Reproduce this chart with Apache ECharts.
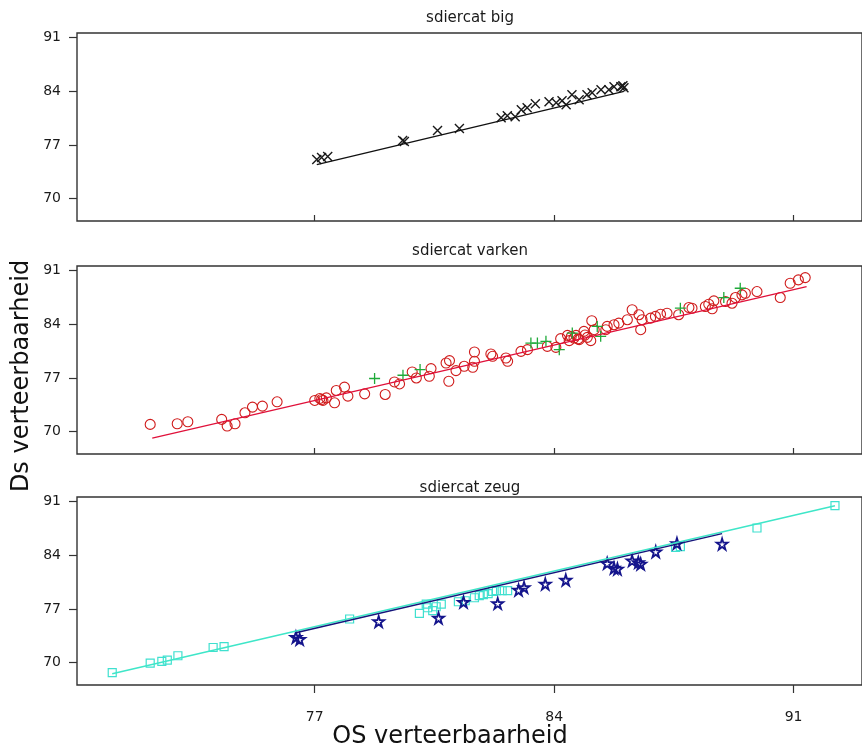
<!DOCTYPE html>
<html>
<head>
<meta charset="utf-8">
<script src="https://cdn.jsdelivr.net/npm/echarts@6/dist/echarts.min.js"></script>
<style>
html,body{margin:0;padding:0;background:#fff;}
#chart{width:862px;height:749px;}
</style>
</head>
<body>
<div id="chart"></div>
<script>
// ---- Data ----
var panelTitles = ['sdiercat big', 'sdiercat varken', 'sdiercat zeug'];
var xTicks = [77, 84, 91];
var yTicks = [70, 77, 84, 91];
var xTitle = 'OS verteerbaarheid';
var yTitle = 'Ds verteerbaarheid';

// panel 1: big (crosses)
var bigX = [77.06, 77.2, 77.38, 79.57, 79.62, 80.59, 81.23, 82.45, 82.63, 82.86, 83.04, 83.21, 83.45, 83.85, 84.06, 84.23, 84.35, 84.52, 84.73, 84.96, 85.11, 85.37, 85.6, 85.75, 85.95, 86.01, 86.04];
var bigY = [75.11, 75.37, 75.5, 77.58, 77.45, 78.88, 79.14, 80.57, 80.83, 80.7, 81.61, 81.87, 82.39, 82.65, 82.52, 82.78, 82.26, 83.56, 82.91, 83.56, 83.82, 84.21, 84.21, 84.6, 84.6, 84.73, 84.47];
var bigLineX = [77.06, 86.04];
var bigLineY = [74.45, 84.0];

// panel 2: varken (circles + pluses)
var varkenCircX = [72.19, 72.98, 73.29, 74.28, 74.44, 74.67, 74.96, 75.18, 75.47, 75.9, 77.0, 77.15, 77.24, 77.34, 77.58, 77.63, 77.87, 77.97, 78.46, 79.06, 79.33, 79.48, 79.85, 79.97, 80.35, 80.4, 80.84, 80.94, 80.92, 81.13, 81.37, 81.62, 81.67, 81.67, 82.15, 82.2, 82.59, 82.64, 83.03, 83.22, 83.8, 84.05, 84.19, 84.39, 84.44, 84.58, 84.64, 84.73, 84.87, 84.97, 85.1, 85.07, 85.17, 85.51, 85.55, 85.75, 85.89, 86.14, 86.28, 86.48, 86.53, 86.57, 86.82, 86.96, 87.11, 87.3, 87.64, 87.94, 88.03, 88.42, 88.52, 88.62, 88.67, 89.01, 89.2, 89.3, 89.49, 89.59, 89.93, 90.61, 90.9, 91.14, 91.34, 84.5, 84.7, 84.9, 77.2];
var varkenCircY = [70.96, 71.04, 71.3, 71.61, 70.74, 71.04, 72.47, 73.21, 73.34, 73.9, 74.08, 74.34, 74.08, 74.42, 73.77, 75.38, 75.81, 74.64, 74.94, 74.86, 76.49, 76.23, 77.79, 77.01, 77.23, 78.23, 78.96, 79.27, 76.58, 77.97, 78.53, 78.4, 80.39, 79.18, 80.13, 79.83, 79.61, 79.18, 80.48, 80.7, 81.13, 81.0, 82.13, 82.56, 81.87, 82.21, 82.56, 82.0, 83.08, 82.3, 84.47, 81.87, 83.3, 83.3, 83.73, 83.95, 84.16, 84.6, 85.9, 85.25, 83.3, 84.6, 84.81, 85.03, 85.32, 85.45, 85.25, 86.19, 86.1, 86.32, 86.62, 86.03, 87.06, 86.97, 86.75, 87.49, 87.84, 88.05, 88.27, 87.49, 89.35, 89.79, 90.09, 82.4, 82.1, 82.6, 74.2];
var varkenPlusX = [78.75, 79.58, 80.08, 83.32, 83.51, 83.76, 84.15, 84.53, 85.26, 85.36, 87.69, 88.96, 89.44];
var varkenPlusY = [76.94, 77.36, 78.1, 81.56, 81.56, 81.78, 80.7, 82.86, 83.73, 82.43, 86.1, 87.49, 88.7];
var varkenLineX = [72.25, 91.38];
var varkenLineY = [69.18, 88.92];

// panel 3: zeug (squares + stars)
var zeugSqX = [71.08, 72.19, 72.53, 72.69, 73.0, 74.03, 74.35, 78.02, 80.06, 80.26, 80.3, 80.45, 80.55, 80.7, 81.2, 81.4, 81.67, 81.81, 81.93, 82.07, 82.2, 82.31, 82.48, 82.64, 87.55, 87.69, 89.93, 92.21];
var zeugSqY = [68.7, 69.96, 70.17, 70.35, 70.91, 71.99, 72.09, 75.7, 76.43, 77.65, 77.17, 76.78, 77.3, 77.65, 77.95, 78.08, 78.47, 78.74, 78.87, 79.0, 79.3, 79.39, 79.39, 79.39, 85.03, 85.12, 87.56, 90.47];
var zeugStarX = [76.45, 76.56, 78.87, 80.62, 81.35, 82.35, 82.96, 83.12, 83.74, 84.34, 85.55, 85.75, 85.85, 86.28, 86.46, 86.53, 86.97, 87.59, 88.91];
var zeugStarY = [73.32, 73.06, 75.38, 75.83, 77.91, 77.73, 79.48, 79.82, 80.26, 80.78, 82.95, 82.35, 82.22, 83.3, 83.08, 82.87, 84.47, 85.55, 85.48];
var zeugSqLineX = [71.08, 92.21];
var zeugSqLineY = [68.57, 90.47];
var zeugStarLineX = [76.45, 88.91];
var zeugStarLineY = [73.91, 86.82];

// ---- Build ----
function zip(xs, ys) { return xs.map(function (x, i) { return [x, ys[i]]; }); }

var FONT = 'DejaVu Sans';
var gridTops = [33, 266, 497];
var gridH = 188;
var grids = [], xAxes = [], yAxes = [];
for (var i = 0; i < 3; i++) {
  grids.push({ left: 77, right: -2, top: gridTops[i], height: gridH, show: true,
    borderColor: '#333', borderWidth: 1.4, backgroundColor: 'transparent', containLabel: false });
  var isBottom = i === 2;
  xAxes.push({ gridIndex: i, type: 'value', min: 70.05, max: 93.0,
    splitLine: { show: false },
    axisLine: { show: false },
    axisTick: { show: true, inside: !isBottom, length: isBottom ? 8 : 6, customValues: xTicks,
      lineStyle: { color: '#333', width: 1.2 } },
    axisLabel: { show: isBottom, customValues: xTicks, margin: 25, color: '#1a1a1a',
      fontFamily: FONT, fontSize: 14 } });
  yAxes.push({ gridIndex: i, type: 'value', min: 67.1, max: 91.6,
    splitLine: { show: false },
    axisLine: { show: false },
    axisTick: { show: true, inside: false, length: 8, customValues: yTicks,
      lineStyle: { color: '#333', width: 1.2 } },
    axisLabel: { show: true, customValues: yTicks, margin: 16, color: '#1a1a1a',
      fontFamily: FONT, fontSize: 14 } });
}

var crossPath = 'path://M0,0L10,10M10,0L0,10';
var plusPath = 'path://M5,0L5,10M0,5L10,5';
var starPath = 'path://M50,0L61,35L98,35L68,57L79,91L50,70L21,91L32,57L2,35L39,35Z';

function scatter(idx, xs, ys, symbol, size, color, bw) {
  return { type: 'scatter', xAxisIndex: idx, yAxisIndex: idx, data: zip(xs, ys),
    symbol: symbol, symbolSize: size, silent: true, animation: false,
    itemStyle: { color: 'rgba(0,0,0,0)', borderColor: color, borderWidth: bw, opacity: 1 } };
}
function line(idx, xs, ys, color, w) {
  return { type: 'line', xAxisIndex: idx, yAxisIndex: idx, data: zip(xs, ys),
    showSymbol: false, silent: true, animation: false,
    lineStyle: { color: color, width: w } };
}

var series = [
  line(0, bigLineX, bigLineY, '#111', 1.3),
  scatter(0, bigX, bigY, crossPath, 9, '#1a1a1a', 1.4),
  line(1, varkenLineX, varkenLineY, '#e0103a', 1.3),
  scatter(1, varkenCircX, varkenCircY, 'circle', 10, '#d01c1c', 1.1),
  scatter(1, varkenPlusX, varkenPlusY, plusPath, 11, '#1faa3a', 1.3),
  line(2, zeugSqLineX, zeugSqLineY, '#3ee6c8', 1.5),
  line(2, zeugStarLineX, zeugStarLineY, '#15157a', 1.3),
  scatter(2, zeugSqX, zeugSqY, 'rect', 8, '#3fe0cf', 1.2),
  scatter(2, zeugStarX, zeugStarY, starPath, 11, '#14148c', 1.8)
];

var titleY = [18, 251, 488];
var graphics = [];
for (var j = 0; j < 3; j++) {
  graphics.push({ type: 'text', style: {
    x: 470, y: titleY[j], text: panelTitles[j], textAlign: 'center', textVerticalAlign: 'middle',
    font: '15px "' + FONT + '"', fill: '#1a1a1a' } });
}
graphics.push({ type: 'text', style: { x: 450, y: 737, text: xTitle, textAlign: 'center',
  textVerticalAlign: 'middle', font: '24px "' + FONT + '"', fill: '#111' } });
graphics.push({ type: 'text', x: 22, y: 376, rotation: Math.PI / 2, style: { x: 0, y: 0, text: yTitle,
  textAlign: 'center', textVerticalAlign: 'middle', font: '24px "' + FONT + '"', fill: '#111' } });

var chart = echarts.init(document.getElementById('chart'), null, { renderer: 'canvas' });
chart.setOption({
  backgroundColor: '#fff',
  animation: false,
  grid: grids,
  xAxis: xAxes,
  yAxis: yAxes,
  series: series,
  graphic: graphics
});
</script>
</body>
</html>
